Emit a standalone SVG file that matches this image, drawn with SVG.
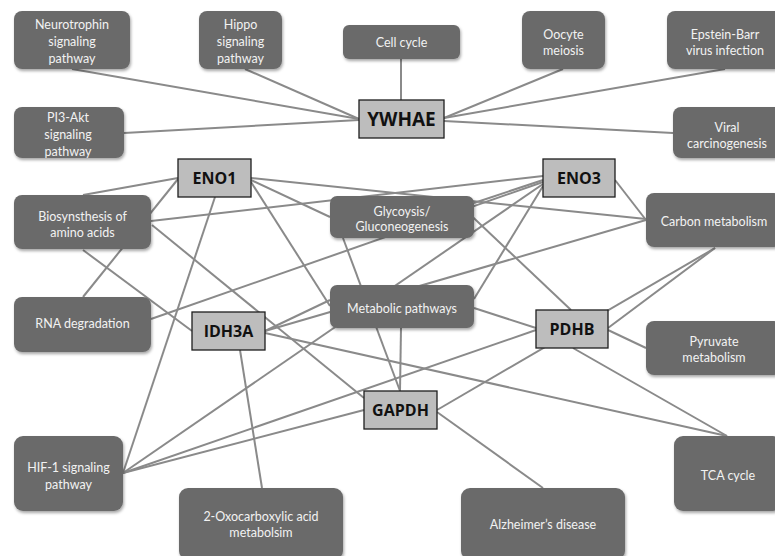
<svg xmlns="http://www.w3.org/2000/svg" width="775" height="556" viewBox="0 0 775 556">
<defs>
<filter id="sh" x="-10%" y="-10%" width="120%" height="130%">
<feDropShadow dx="1" dy="2" stdDeviation="1.5" flood-color="#000" flood-opacity="0.35"/>
</filter>
<style>
.e{stroke:#8a8a8a;stroke-width:2;fill:none}
.p{fill:#6b6b6b;filter:url(#sh)}
.g{fill:#bdbdbd;stroke:#1e1e1e;stroke-width:1.3}
.pt{font-family:Lato,"Open Sans","Liberation Sans",sans-serif;font-size:12.5px;fill:#f2f2f2;text-anchor:middle}
.gt{font-family:"Open Sans","Liberation Sans",sans-serif;font-weight:700;font-size:16px;fill:#111;text-anchor:middle}
</style>
</defs>
<rect width="775" height="556" fill="#fff"/>
<g id="connectors">
<line class="e" x1="72" y1="69" x2="359" y2="119"/>
<line class="e" x1="245" y1="69" x2="359" y2="119"/>
<line class="e" x1="124" y1="133" x2="359" y2="120"/>
<line class="e" x1="401" y1="59" x2="401" y2="100"/>
<line class="e" x1="563" y1="69" x2="444" y2="118"/>
<line class="e" x1="725" y1="69" x2="444" y2="118"/>
<line class="e" x1="673" y1="133" x2="444" y2="121"/>
<line class="e" x1="178" y1="178" x2="83" y2="195"/>
<line class="e" x1="178" y1="179" x2="83" y2="297"/>
<line class="e" x1="215" y1="197" x2="123" y2="473"/>
<line class="e" x1="251" y1="178" x2="646" y2="219"/>
<line class="e" x1="251" y1="180" x2="330" y2="217"/>
<line class="e" x1="251" y1="182" x2="330" y2="306"/>
<line class="e" x1="543" y1="176" x2="151" y2="221"/>
<line class="e" x1="543" y1="180" x2="474" y2="203"/>
<line class="e" x1="543" y1="182" x2="151" y2="319"/>
<line class="e" x1="543" y1="184" x2="123" y2="473"/>
<line class="e" x1="543" y1="186" x2="474" y2="299"/>
<line class="e" x1="615" y1="180" x2="646" y2="220"/>
<line class="e" x1="192" y1="331" x2="83" y2="250"/>
<line class="e" x1="265" y1="331" x2="646" y2="220"/>
<line class="e" x1="265" y1="331" x2="330" y2="300"/>
<line class="e" x1="265" y1="333" x2="727" y2="436"/>
<line class="e" x1="240" y1="350" x2="262" y2="488"/>
<line class="e" x1="364" y1="398" x2="152" y2="225"/>
<line class="e" x1="400" y1="391" x2="343" y2="238"/>
<line class="e" x1="401" y1="328" x2="400" y2="391"/>
<line class="e" x1="364" y1="410" x2="123" y2="473"/>
<line class="e" x1="437" y1="410" x2="715" y2="248"/>
<line class="e" x1="437" y1="412" x2="543" y2="488"/>
<line class="e" x1="460" y1="205" x2="571" y2="310"/>
<line class="e" x1="474" y1="308" x2="536" y2="328"/>
<line class="e" x1="536" y1="330" x2="123" y2="473"/>
<line class="e" x1="608" y1="328" x2="715" y2="248"/>
<line class="e" x1="608" y1="330" x2="646" y2="348"/>
<line class="e" x1="573" y1="348" x2="727" y2="436"/>
</g>
<g id="n-neurotrophin"><rect class="p" x="14" y="11" width="116" height="58" rx="8"/><text class="pt" x="72" y="29">Neurotrophin</text><text class="pt" x="72" y="46">signaling</text><text class="pt" x="72" y="63">pathway</text></g>
<g id="n-hippo"><rect class="p" x="199" y="11" width="83" height="58" rx="8"/><text class="pt" x="240.5" y="29">Hippo</text><text class="pt" x="240.5" y="46">signaling</text><text class="pt" x="240.5" y="63">pathway</text></g>
<g id="n-cellcycle"><rect class="p" x="343" y="25" width="117" height="34" rx="6"/><text class="pt" x="401.5" y="47">Cell cycle</text></g>
<g id="n-oocyte"><rect class="p" x="522" y="11" width="83" height="58" rx="8"/><text class="pt" x="563.5" y="39">Oocyte</text><text class="pt" x="563.5" y="55">meiosis</text></g>
<g id="n-ebv"><rect class="p" x="667" y="11" width="116" height="58" rx="8"/><text class="pt" x="725" y="39">Epstein-Barr</text><text class="pt" x="725" y="55">virus infection</text></g>
<g id="n-pi3k"><rect class="p" x="14" y="107" width="110" height="51" rx="8"/><text class="pt" x="68" y="122">PI3-Akt</text><text class="pt" x="68" y="139">signaling</text><text class="pt" x="68" y="156">pathway</text></g>
<g id="n-viral"><rect class="p" x="673" y="107" width="110" height="51" rx="8"/><text class="pt" x="727" y="132">Viral</text><text class="pt" x="727" y="148">carcinogenesis</text></g>
<g id="n-ywhae"><rect class="g" x="359" y="100" width="85" height="38"/><text class="gt" x="401.5" y="126" style="font-size:19px">YWHAE</text></g>
<g id="n-biosynthesis"><rect class="p" x="14" y="195" width="137" height="54" rx="8"/><text class="pt" x="82.5" y="221">Biosynsthesis of</text><text class="pt" x="82.5" y="237">amino acids</text></g>
<g id="n-eno1"><rect class="g" x="178" y="159" width="73" height="38"/><text class="gt" x="214.5" y="184">ENO1</text></g>
<g id="n-eno3"><rect class="g" x="543" y="159" width="72" height="38"/><text class="gt" x="579" y="184">ENO3</text></g>
<g id="n-glycolysis"><rect class="p" x="330" y="196" width="144" height="42" rx="7"/><text class="pt" x="402" y="216">Glycoysis/</text><text class="pt" x="402" y="231">Gluconeogenesis</text></g>
<g id="n-carbon"><rect class="p" x="646" y="193" width="136" height="54" rx="8"/><text class="pt" x="714" y="226">Carbon metabolism</text></g>
<g id="n-rna"><rect class="p" x="14" y="297" width="137" height="55" rx="8"/><text class="pt" x="82.5" y="328">RNA degradation</text></g>
<g id="n-metabolic"><rect class="p" x="330" y="285" width="144" height="43" rx="7"/><text class="pt" x="402" y="313">Metabolic pathways</text></g>
<g id="n-idh3a"><rect class="g" x="192" y="312" width="73" height="38"/><text class="gt" x="228.5" y="337">IDH3A</text></g>
<g id="n-pdhb"><rect class="g" x="536" y="310" width="72" height="38"/><text class="gt" x="572" y="335">PDHB</text></g>
<g id="n-pyruvate"><rect class="p" x="646" y="321" width="136" height="54" rx="8"/><text class="pt" x="714" y="346">Pyruvate</text><text class="pt" x="714" y="362">metabolism</text></g>
<g id="n-gapdh"><rect class="g" x="364" y="391" width="73" height="38"/><text class="gt" x="400.5" y="416">GAPDH</text></g>
<g id="n-hif1"><rect class="p" x="14" y="436" width="109" height="75" rx="9"/><text class="pt" x="68.5" y="472">HIF-1 signaling</text><text class="pt" x="68.5" y="489">pathway</text></g>
<g id="n-oxo"><rect class="p" x="179" y="488" width="164" height="72" rx="9"/><text class="pt" x="261" y="521">2-Oxocarboxylic acid</text><text class="pt" x="261" y="537">metabolsim</text></g>
<g id="n-alz"><rect class="p" x="461" y="488" width="164" height="72" rx="9"/><text class="pt" x="543" y="529">Alzheimer’s disease</text></g>
<g id="n-tca"><rect class="p" x="674" y="436" width="108" height="75" rx="9"/><text class="pt" x="728" y="480">TCA cycle</text></g>
</svg>
